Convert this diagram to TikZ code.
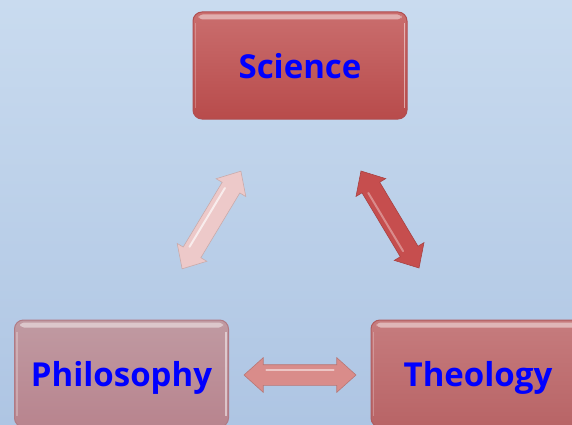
\documentclass[tikz,border=0pt]{standalone}
\usepackage{fontspec}
\setmainfont{Open Sans}
\usetikzlibrary{calc,shapes.arrows}
\definecolor{bgtop}{HTML}{C9DBEF}
\definecolor{bgbot}{HTML}{AEC5E3}
\definecolor{textblue}{HTML}{0000FF}
\definecolor{scitop}{HTML}{CA6E6E}
\definecolor{scibot}{HTML}{B84B4B}
\definecolor{sciedge}{HTML}{B04E50}
\definecolor{phitop}{HTML}{C09AA2}
\definecolor{phibot}{HTML}{B8848E}
\definecolor{phiedge}{HTML}{B07A84}
\definecolor{thetop}{HTML}{C67C7E}
\definecolor{thebot}{HTML}{B86466}
\definecolor{theedge}{HTML}{B05C5E}
\definecolor{arrL}{HTML}{EDC9C9}
\definecolor{arrR}{HTML}{C64E4E}
\definecolor{arrH}{HTML}{D98C8A}
\begin{document}
\begin{tikzpicture}[x=1pt,y=1pt,
  boxstyle/.style n args={3}{rectangle, rounded corners=9pt,
    minimum width=214pt, minimum height=107pt, inner sep=0pt,
    text height=26pt, text depth=0pt,
    top color=#1, bottom color=#2, draw=#3, line width=1pt,
    font=\bfseries\fontsize{33}{38}\selectfont, text=textblue},
  gloss/.style={white, opacity=.45},
  dblarr/.style={double arrow, double arrow head extend=7pt,
    double arrow tip angle=84, inner sep=0pt,
    fill=#1, draw=#1!85!black, line width=.6pt},
  shine/.style={white, opacity=.65, line width=2pt, line cap=round}
]
\useasboundingbox (0,0) rectangle (572,424);
\clip (0,0) rectangle (572,424);
\fill[top color=bgtop, bottom color=bgbot] (0,0) rectangle (572,424);

% boxes
\node[boxstyle={scitop}{scibot}{sciedge}] (sci) at (300,358.5) {Science};
\node[boxstyle={phitop}{phibot}{phiedge}] (phi) at (121.5,50.5) {Philosophy};
\node[boxstyle={thetop}{thebot}{theedge}] (the) at (478,50.5) {Theology};

\foreach \b in {sci,phi,the}{
  \fill[gloss, rounded corners=4pt] ($(\b.north west)+(6,-3)$) rectangle ($(\b.north east)+(-6,-8)$);
  \draw[white, opacity=.5, line width=1.5pt] ($(\b.north east)+(-3,-12)$) -- ($(\b.south east)+(-3,12)$);
  \draw[white, opacity=.25, line width=1.5pt] ($(\b.north west)+(3,-12)$) -- ($(\b.south west)+(3,12)$);
}

% arrows
\coordinate (a1) at (182,155);
\coordinate (a2) at (241,253);
\coordinate (b1) at (361,253);
\coordinate (b2) at (419,156);
\coordinate (c1) at (244,49);
\coordinate (c2) at (356,49);

\node[dblarr=arrL, minimum height=114pt, rotate=58.95] (arl) at ($(a1)!.5!(a2)$) {\rule{0pt}{20pt}};
\node[dblarr=arrR, minimum height=113pt, rotate=-59.1] (arr) at ($(b1)!.5!(b2)$) {\rule{0pt}{20pt}};
\node[dblarr=arrH, minimum height=112pt] (arh) at ($(c1)!.5!(c2)$) {\rule{0pt}{20pt}};

\draw[shine] ($(a1)!.2!(a2)!5pt!90:(a2)$) -- ($(a1)!.8!(a2)!5pt!-90:(a1)$);
\draw[shine, opacity=.35] ($(b1)!.2!(b2)!5pt!-90:(b2)$) -- ($(b1)!.8!(b2)!5pt!90:(b1)$);
\draw[shine, opacity=.5] ($(c1)!.2!(c2)!5pt!90:(c2)$) -- ($(c1)!.8!(c2)!5pt!-90:(c1)$);
\end{tikzpicture}
\end{document}
